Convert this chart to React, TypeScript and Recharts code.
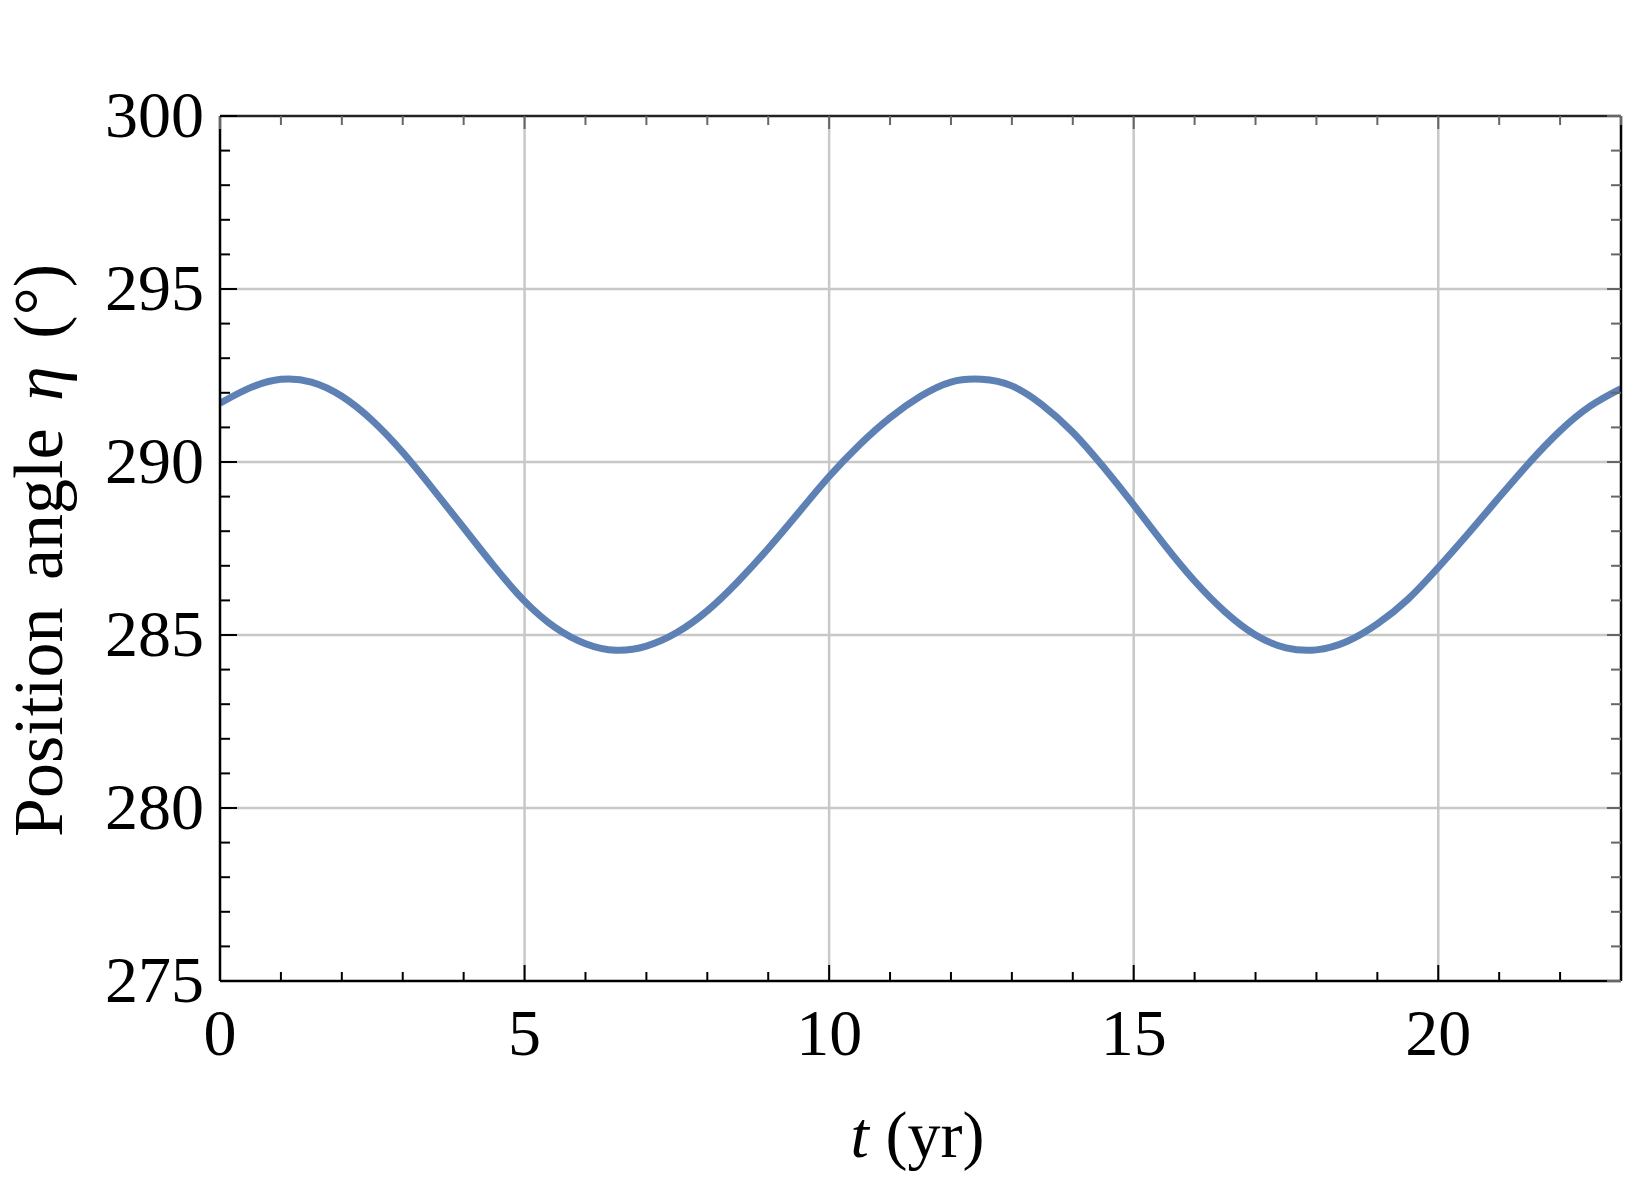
import React from "react";
import { LineChart, Line, XAxis, YAxis, ReferenceLine } from "recharts";

// t (yr) and position angle η (°), every half year
const tYears = [
  0, 0.5, 1, 1.5, 2, 2.5, 3, 3.5, 4, 4.5, 5, 5.5, 6, 6.5, 7, 7.5, 8, 8.5, 9,
  9.5, 10, 10.5, 11, 11.5, 12, 12.5, 13, 13.5, 14, 14.5, 15, 15.5, 16, 16.5, 17,
  17.5, 18, 18.5, 19, 19.5, 20, 20.5, 21, 21.5, 22, 22.5, 23,
];
const etaDeg = [
  291.7, 292.15, 292.39, 292.31, 291.9, 291.2, 290.28, 289.21, 288.1, 286.99,
  285.98, 285.22, 284.75, 284.56, 284.68, 285.07, 285.7, 286.54, 287.5, 288.54,
  289.58, 290.5, 291.28, 291.9, 292.31, 292.39, 292.2, 291.65, 290.86, 289.86,
  288.76, 287.62, 286.56, 285.67, 285.0, 284.63, 284.57, 284.81, 285.32, 286.03,
  286.95, 287.95, 288.98, 289.99, 290.9, 291.62, 292.12,
];

const xMajor = [0, 5, 10, 15, 20];
const yMajor = [275, 280, 285, 290, 295, 300];
const xGrid = [5, 10, 15, 20];
const yGrid = [280, 285, 290, 295];
const xAllTicks = Array.from({ length: 24 }, (_, i) => i);
const yAllTicks = Array.from({ length: 26 }, (_, i) => 275 + i);

const data = tYears.map((t, i) => ({ t, eta: etaDeg[i] }));

const FONT = '"Liberation Serif", "Times New Roman", serif';
const BLUE = "#5E81B5";

function BottomTick(props: any) {
  const { x, y, payload } = props;
  const major = xMajor.includes(payload.value);
  return (
    <g>
      <line x1={x} x2={x} y1={y} y2={y - (major ? 16 : 9)} stroke="#000" strokeWidth={2} />
      {major && (
        <text x={x} y={y + 74} textAnchor="middle" fontSize={66} fontFamily={FONT} fill="#000">
          {payload.value}
        </text>
      )}
    </g>
  );
}

function LeftTick(props: any) {
  const { x, y, payload } = props;
  const major = yMajor.includes(payload.value);
  return (
    <g>
      <line x1={x} x2={x + (major ? 17 : 10)} y1={y} y2={y} stroke="#000" strokeWidth={2} />
      {major && (
        <text x={x - 16} y={y + 21} textAnchor="end" fontSize={66} fontFamily={FONT} fill="#000">
          {payload.value}
        </text>
      )}
    </g>
  );
}

function TopTick(props: any) {
  const { x, y, payload } = props;
  const major = xMajor.includes(payload.value);
  return <line x1={x} x2={x} y1={y} y2={y + (major ? 13 : 9)} stroke="#666" strokeWidth={2} />;
}

function RightTick(props: any) {
  const { x, y, payload } = props;
  const major = yMajor.includes(payload.value);
  return <line x1={x} x2={x - (major ? 14 : 10)} y1={y} y2={y} stroke="#666" strokeWidth={2} />;
}

function XLabel(props: any) {
  const { x, y, width } = props.viewBox;
  return (
    <text x={x + width / 2 - 3} y={y + 176} textAnchor="middle" fontSize={66} fontFamily={FONT} fill="#000">
      <tspan fontStyle="italic">t</tspan>
      <tspan> (yr)</tspan>
    </text>
  );
}

function YLabel(props: any) {
  const { y, height } = props.viewBox;
  const cx = 54;
  const cy = y + height / 2 + 2;
  return (
    <text
      x={cx}
      y={cy}
      transform={`rotate(-90, ${cx}, ${cy})`}
      textAnchor="middle"
      fontSize={70}
      wordSpacing={10}
      fontFamily={FONT}
      fill="#000"
    >
      <tspan>Position angle </tspan>
      <tspan fontStyle="italic">η</tspan>
      <tspan> (°)</tspan>
    </text>
  );
}

export default function App() {
  return (
    <LineChart
      width={1627}
      height={1173}
      data={data}
      margin={{ top: 107, right: 13, bottom: 0, left: 0 }}
    >
      <XAxis
        dataKey="t"
        type="number"
        domain={[0, 23]}
        ticks={xAllTicks}
        interval={0}
        tickSize={0}
        tickMargin={0}
        tick={<BottomTick />}
        height={200}
        axisLine={{ stroke: "#000", strokeWidth: 2.5 }}
        allowDataOverflow
        label={<XLabel />}
      />
      <XAxis
        xAxisId="top"
        orientation="top"
        dataKey="t"
        type="number"
        domain={[0, 23]}
        ticks={xAllTicks}
        interval={0}
        tickSize={0}
        tickMargin={0}
        tick={<TopTick />}
        height={1}
        axisLine={{ stroke: "#222", strokeWidth: 2.5 }}
        allowDataOverflow
      />
      <YAxis
        type="number"
        domain={[275, 300]}
        ticks={yAllTicks}
        interval={0}
        tickSize={0}
        tickMargin={0}
        tick={<LeftTick />}
        width={212}
        axisLine={{ stroke: "#000", strokeWidth: 2.5 }}
        allowDataOverflow
        label={<YLabel />}
      />
      <YAxis
        yAxisId="right"
        orientation="right"
        type="number"
        domain={[275, 300]}
        ticks={yAllTicks}
        interval={0}
        tickSize={0}
        tickMargin={0}
        tick={<RightTick />}
        width={1}
        axisLine={{ stroke: "#000", strokeWidth: 2.5 }}
        allowDataOverflow
      />
      {xGrid.map((v) => (
        <ReferenceLine key={`gx${v}`} x={v} stroke="#c8c8c8" strokeWidth={2.5} />
      ))}
      {yGrid.map((v) => (
        <ReferenceLine key={`gy${v}`} y={v} stroke="#c8c8c8" strokeWidth={2.5} />
      ))}
      <Line
        type="natural"
        dataKey="eta"
        stroke={BLUE}
        strokeWidth={7}
        dot={false}
        activeDot={false}
        isAnimationActive={false}
      />
    </LineChart>
  );
}
